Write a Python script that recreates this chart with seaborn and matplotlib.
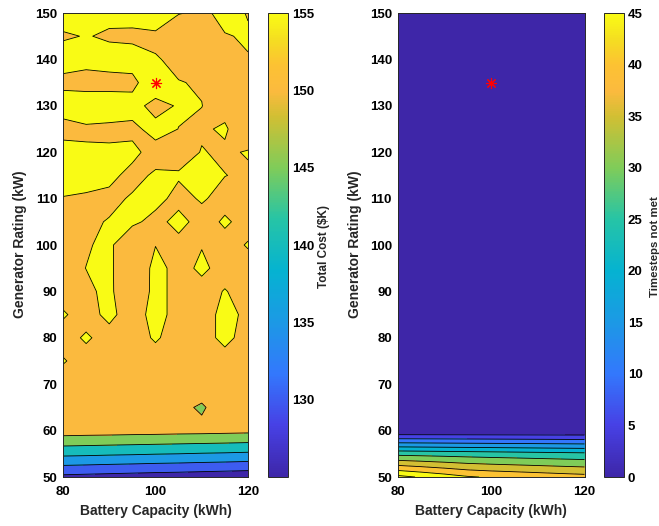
import numpy as np
import matplotlib
matplotlib.use("Agg")
import matplotlib.pyplot as plt
import seaborn as sns
from matplotlib.colors import LinearSegmentedColormap, Normalize
from matplotlib.cm import ScalarMappable

# ---------------- data ----------------
battery = [80, 85, 90, 95, 100, 105, 110, 115, 120]          # kWh
generator = [150, 145, 140, 135, 130, 125, 120, 115, 110, 105, 100,
             95, 90, 85, 80, 75, 70, 65, 60, 55, 50]          # kW

# total cost, one row per generator rating (150 -> 50), columns = battery
total_cost = [
    [159.0, 157.0, 157.0, 158.6, 157.0, 155.2, 154.4, 155.8, 154.88],  # 150
    [154.0, 155.4, 154.0, 153.0, 154.4, 152.0, 153.0, 154.86, 155.23],  # 145
    [159.0, 157.0, 158.0, 159.0, 155.2, 154.43, 153.0, 153.0, 154.89],  # 140
    [152.5, 152.5, 152.5, 152.5, 162.0, 155.08, 154.83, 153.0, 153.0],  # 135
    [160.0, 159.0, 159.0, 158.6, 151.7, 155.93, 155.04, 153.7, 153.0],  # 130
    [151.1, 154.0, 153.5, 152.9, 158.0, 154.9, 154.5, 155.5, 152.0],    # 125
    [159.3, 155.8, 156.0, 157.0, 151.75, 153.0, 155.2, 154.4, 155.3],   # 120
    [157.0, 157.6, 157.0, 152.65, 156.1, 155.5, 157.0, 155.08, 154.4],  # 115
    [154.8, 154.1, 153.0, 155.86, 156.5, 153.5, 155.5, 153.5, 153.5],   # 110
    [153.0, 153.5, 155.5, 156.0, 153.5, 156.5, 153.2, 155.6, 153.5],    # 105
    [153.5, 154.6, 156.0, 150.5, 154.9, 153.5, 154.8, 153.5, 155.3],    # 100
    [153.5, 155.05, 156.0, 150.5, 156.5, 153.5, 155.8, 153.5, 153.5],   # 95
    [153.5, 154.2, 156.0, 150.8, 156.5, 153.5, 153.5, 155.2, 153.5],    # 90
    [155.4, 153.5, 156.0, 153.0, 156.5, 153.5, 153.5, 156.0, 154.3],    # 85
    [153.5, 155.5, 153.5, 153.5, 155.4, 153.5, 153.5, 156.0, 153.5],    # 80
    [155.3, 153.5, 153.5, 153.5, 153.5, 153.5, 153.5, 153.5, 153.5],    # 75
    [153.2, 153.3, 153.3, 153.4, 153.3, 153.3, 153.5, 153.4, 153.3],    # 70
    [153.0, 153.1, 153.0, 152.8, 152.5, 151.5, 149.2, 153.5, 153.0],    # 65
    [152.5, 152.3, 152.2, 152.0, 151.9, 151.7, 151.6, 151.4, 151.2],    # 60
    [141.2, 141.0, 140.7, 140.5, 140.2, 140.0, 139.7, 139.5, 139.2],    # 55
    [128.8, 128.5, 128.2, 127.9, 127.6, 127.4, 127.1, 126.8, 126.5],    # 50
]

zero_row = [0, 0, 0, 0, 0, 0, 0, 0, 0]
timesteps_not_met = [zero_row] * 18 + [
    [0.0, 0.0, 0.0, 0.0, 0.0, 0.0, 0.0, 0.0, 0.0],                 # 60
    [28.5, 28.2, 27.9, 27.6, 27.3, 27.0, 26.7, 26.4, 26.1],        # 55
    [51.5, 49.5, 47.5, 45.5, 44.5, 43.8, 43.1, 42.4, 41.8],        # 50
]

optimum_battery = [100]
optimum_generator = [135]

cost_levels = [130, 135, 140, 145, 150, 155]
cost_range = (125, 155)
cost_ticks = [130, 135, 140, 145, 150, 155]
unmet_levels = [5, 10, 15, 20, 25, 30, 35, 40, 45, 50]
unmet_range = (0, 45)
unmet_ticks = [0, 5, 10, 15, 20, 25, 30, 35, 40, 45]
x_ticks = [80, 100, 120]
y_ticks = [50, 60, 70, 80, 90, 100, 110, 120, 130, 140, 150]

# ---------------- style ----------------
sns.set_style("white")
plt.rcParams["font.family"] = ["Liberation Sans", "DejaVu Sans"]
plt.rcParams["font.weight"] = "bold"

parula = LinearSegmentedColormap.from_list("parula", [
    (0.000, (0.2422, 0.1504, 0.6603)),
    (0.111, (0.2780, 0.2550, 0.8990)),
    (0.222, (0.2000, 0.4700, 0.9900)),
    (0.333, (0.1100, 0.6000, 0.9000)),
    (0.444, (0.0200, 0.7000, 0.8200)),
    (0.556, (0.1500, 0.7700, 0.6500)),
    (0.667, (0.5000, 0.8000, 0.3500)),
    (0.778, (0.8200, 0.7500, 0.2000)),
    (0.833, (0.9850, 0.7300, 0.2450)),
    (0.889, (0.9900, 0.7600, 0.2000)),
    (0.944, (0.9600, 0.8700, 0.1300)),
    (1.000, (0.9769, 0.9839, 0.0805)),
])

W, H = 659, 526
fig = plt.figure(figsize=(W / 100, H / 100), dpi=100)


def fx(px):
    return px / W


def fy(py):
    return 1 - py / H


ax_top, ax_bot = 13, 477
axes_h = (ax_bot - ax_top) / H
axL = fig.add_axes([fx(63), fy(ax_bot), fx(185), axes_h])
caxL = fig.add_axes([fx(267.5), fy(ax_bot), fx(20), axes_h])
axR = fig.add_axes([fx(397.5), fy(ax_bot), fx(187), axes_h])
caxR = fig.add_axes([fx(604), fy(ax_bot), fx(19.5), axes_h])

X, Y = np.meshgrid(np.array(battery, float), np.array(generator, float))
edge = (0.15, 0.15, 0.15)
TICK_FS = 9.5


def panel(ax, cax, Z, levels, rng, ticks, clabel, clabel_x, clabel_fs):
    Z = np.array(Z, float)
    norm = Normalize(*rng)
    lo = min(Z.min(), rng[0]) - 1
    hi = max(Z.max(), levels[-1]) + 1
    bounds = [lo] + list(levels) + [hi]
    band_colors = [parula(norm(rng[0]))] + [parula(norm(l)) for l in levels]
    ax.contourf(X, Y, Z, levels=bounds, colors=band_colors)
    ax.contour(X, Y, Z, levels=levels, colors="k", linewidths=0.6)
    ax.plot(optimum_battery, optimum_generator, linestyle="none",
            marker=(8, 2, 0), color="red", markersize=8, mew=0.8)
    ax.set_xlim(80, 120)
    ax.set_ylim(50, 150)
    ax.set_xticks(x_ticks)
    ax.set_yticks(y_ticks)
    ax.tick_params(direction="in", length=3.5, width=0.6, color=edge,
                   top=True, right=True, labelsize=TICK_FS,
                   labelcolor="black")
    ax.tick_params(axis="x", pad=6.5)
    ax.tick_params(axis="y", pad=4)
    for s in ax.spines.values():
        s.set_color(edge)
        s.set_linewidth(0.7)
        s.set_visible(True)
    for t in ax.get_xticklabels() + ax.get_yticklabels():
        t.set_fontweight("bold")
    cb = fig.colorbar(ScalarMappable(norm=norm, cmap=parula), cax=cax,
                      ticks=ticks)
    cb.outline.set_edgecolor(edge)
    cb.outline.set_linewidth(0.7)
    cax.tick_params(direction="in", length=3.5, width=0.6, color=edge,
                    labelsize=TICK_FS, pad=3, labelcolor="black")
    for t in cax.get_yticklabels():
        t.set_fontweight("bold")
    fig.text(fx(clabel_x), fy(247), clabel, rotation=90, ha="center",
             va="center", fontsize=clabel_fs, fontweight="bold")


panel(axL, caxL, total_cost, cost_levels, cost_range, cost_ticks,
      "Total Cost ($K)", 323.5, 8.5)
panel(axR, caxR, timesteps_not_met, unmet_levels, unmet_range, unmet_ticks,
      "Timesteps not met", 655, 8.2)

for xl in (20, 355):
    fig.text(fx(xl), fy(244), "Generator Rating (kW)", rotation=90,
             ha="center", va="center", fontsize=10, fontweight="bold")
fig.text(fx(155.5), fy(511), "Battery Capacity (kWh)", ha="center",
         va="center", fontsize=10, fontweight="bold")
fig.text(fx(491), fy(511), "Battery Capacity (kWh)", ha="center",
         va="center", fontsize=10, fontweight="bold")

fig.savefig("out.png", dpi=100)
